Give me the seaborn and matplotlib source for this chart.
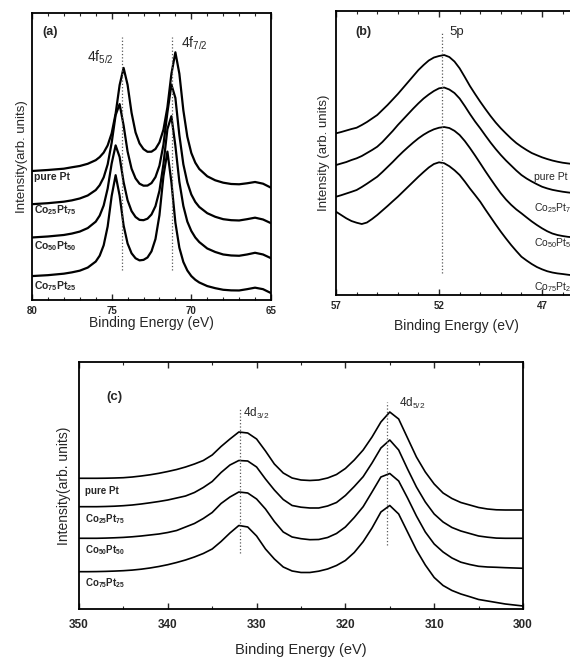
import matplotlib
matplotlib.use("Agg")
import pandas as pd
import matplotlib.pyplot as plt
from matplotlib.ticker import MultipleLocator, FixedLocator, NullLocator
import seaborn as sns

# sample names (same order in every panel, top curve first)
samples = ["pure Pt", "Co$_{25}$Pt$_{75}$", "Co$_{50}$Pt$_{50}$", "Co$_{75}$Pt$_{25}$"]

# Panel (a): Pt 4f region
be_a = [80, 79, 78, 77.5, 77, 76.5, 76, 75.75, 75.5, 75.25, 75, 74.75, 74.5, 74.25,
        74, 73.75, 73.5, 73.25, 73, 72.75, 72.5, 72.25, 72, 71.75, 71.5, 71.25, 71,
        70.75, 70.5, 70.25, 70, 69.75, 69.5, 69, 68.5, 68, 67.5, 67, 66.5, 66, 65.5, 65]
pt_a = [129.0, 130.0, 131.3, 132.7, 134.0, 136.2, 139.8, 142.9, 147.4, 154.6, 166.6,
        186.4, 214.9, 232.1, 215.2, 187.2, 167.6, 156.6, 150.9, 148.2, 148.3, 151.0,
        157.6, 170.3, 192.7, 226.0, 247.7, 226.3, 189.7, 163.3, 147.0, 137.3, 131.0,
        123.7, 119.7, 117.3, 116.0, 115.7, 116.7, 118.0, 116.3, 112.3]
co25_a = [95.8, 96.8, 98.3, 99.6, 101.5, 104.5, 109.9, 114.8, 122.6, 135.6, 157.1,
          184.9, 195.9, 174.6, 148.5, 131.3, 121.6, 116.3, 114.3, 114.4, 116.9, 122.9,
          134.3, 155.2, 187.5, 215.4, 202.1, 164.8, 135.7, 117.5, 105.5, 98.0, 93.0,
          86.8, 83.2, 80.8, 79.8, 79.5, 80.8, 82.3, 80.5, 76.8]
co50_a = [62.5, 63.5, 65.0, 66.4, 68.4, 71.9, 78.3, 84.4, 94.5, 111.4, 136.4, 154.6,
          143.0, 117.9, 99.7, 88.9, 83.0, 80.1, 79.8, 81.3, 85.5, 93.8, 109.2, 135.8,
          170.9, 183.8, 154.2, 118.2, 94.0, 78.4, 69.0, 62.5, 57.9, 51.5, 48.0, 45.5,
          44.5, 44.2, 45.5, 47.2, 45.5, 41.8]
co75_a = [23.9, 24.8, 26.3, 27.6, 29.3, 32.4, 38.4, 44.3, 54.7, 73.5, 103.9, 124.8,
          104.4, 74.6, 56.5, 46.7, 41.7, 39.6, 40.1, 42.5, 48.6, 60.9, 84.8, 123.8,
          148.4, 117.9, 77.4, 52.3, 38.0, 29.5, 23.9, 20.2, 17.5, 13.9, 11.8, 10.2,
          9.6, 9.5, 10.8, 12.3, 10.8, 6.9]
peaks_a = [74.38, 71.19]

# Panel (b): Pt 5p region
be_b = [57, 56.75, 56.5, 56.25, 56, 55.75, 55.5, 55.25, 55, 54.75, 54.5, 54.25, 54,
        53.75, 53.5, 53.25, 53, 52.75, 52.5, 52.25, 52, 51.75, 51.5, 51.25, 51, 50.75,
        50.5, 50.25, 50, 49.75, 49.5, 49.25, 49, 48.75, 48.5, 48.25, 48, 47.75, 47.5,
        47.25, 47, 46.75, 46.5, 46.25, 46, 45.75, 45.5]
pt_b = [161.7, 163, 164.5, 166, 167.3, 170, 173, 176.5, 180, 185, 190, 195.5, 201, 207,
        213, 219, 225, 230, 234.5, 237.5, 239, 240, 238, 233.5, 226.7, 218, 209, 201,
        193.3, 186, 179, 172.5, 166.7, 161.5, 156.5, 152, 148.3, 145, 142, 139.8, 137.7,
        136, 134.5, 133.3, 132.3, 131.6, 131]
co25_b = [130, 131.5, 133, 135, 136.7, 139, 142, 145, 148.3, 153, 158.5, 164, 170, 175.5,
          181, 186.5, 191.7, 196.5, 200.5, 204, 206.7, 207.5, 205.5, 202, 196.5, 189, 181,
          173.5, 166.7, 159.5, 152.5, 146, 140, 134.5, 129.5, 124.5, 120, 116.5, 113.5,
          110.8, 108.3, 106.6, 105.2, 104.2, 103.3, 102.6, 102]
co50_b = [98.3, 99.8, 101.5, 103.2, 105, 108, 111.3, 114.8, 118.3, 123, 128, 133, 138.3,
          143.3, 148, 152.5, 156.7, 160.3, 163.3, 165.7, 167.3, 168, 167, 164.2, 160, 154,
          147, 139.5, 131.7, 123.8, 116.2, 108.8, 101.7, 95.5, 90.2, 85.6, 81.7, 77.6,
          73.6, 70, 66.7, 63.8, 61.5, 60, 59, 58.2, 57.7]
co75_b = [83.3, 80, 76.7, 74, 72.3, 71, 72.5, 76, 80, 84.5, 89, 93.7, 98.3, 103.3, 108.3,
          113.3, 118.3, 123, 127.5, 131, 132.7, 131.8, 128.8, 124.8, 120, 113.5, 106.5,
          100, 93.3, 85.5, 78, 70.5, 63.3, 56.5, 50, 44, 38.3, 34.5, 31, 28, 25.7, 23.8,
          22.5, 21.6, 21, 20.3, 19.7]
peaks_b = [51.84]
ticks_b = [57, 52, 47]

# Panel (c): Pt 4d region
be_c = [350, 349, 348, 347, 346, 345, 344, 343, 342, 341, 340, 339, 338, 337, 336, 335,
        334, 333, 332, 331, 330, 329, 328, 327, 326, 325, 324, 323, 322, 321, 320, 319,
        318, 317, 316, 315, 314, 313, 312, 311, 310, 309, 308, 307, 306, 305, 304, 303,
        302, 301, 300]
pt_c = [130.7, 130.7, 130.7, 130.8, 131.0, 131.3, 132.0, 133.0, 134.2, 135.7,
        137.5, 139.5, 142, 145, 148.5, 154, 162.5, 170, 177, 176,
        170, 158, 145, 136, 131, 129, 128.5, 129, 131, 134.5,
        140.5, 149, 159, 172, 187, 197, 190, 171, 152, 137,
        125, 116, 110.5, 106.5, 104, 101.5, 100, 99.2, 99, 99, 99]
co25_c = [102.3, 102.3, 102.3, 102.5, 102.8, 103.3, 104, 105, 106.2, 107.5,
          109, 111, 113, 116.5, 121.5, 127.5, 136.5, 144, 148.5, 148,
          142, 130, 119, 109.5, 103.5, 101.8, 101, 101, 103, 106.5,
          113.5, 122.5, 132.3, 146, 161, 169, 159, 140, 122, 107,
          95, 87, 81.5, 78, 75.5, 73, 71.8, 70.9, 70.7, 70.7, 70.7]
co50_c = [70.7, 70.7, 70.7, 70.9, 71.2, 71.6, 72.2, 73, 74, 75,
          76.5, 78.5, 82, 85.5, 90.5, 96.5, 105.5, 112, 117, 116,
          110, 100, 87.5, 77, 72, 70.3, 69.3, 69.5, 71.5, 75.5,
          82, 91.5, 102.3, 117, 132, 135.5, 128, 111, 93, 77,
          65, 57, 51, 46.8, 44.5, 42.7, 42, 41.7, 41.3, 41, 40.7]
co75_c = [37.3, 37.3, 37.4, 37.6, 37.9, 38.3, 38.9, 39.8, 41, 42.5,
          44.3, 46.5, 49, 52, 55.5, 60, 67.5, 76, 83.5, 82,
          73, 60, 50, 42, 38, 36.5, 36.5, 37.8, 40, 43.5,
          48.5, 56.5, 67.3, 81, 97, 103.5, 95, 77, 59, 44,
          31.5, 23.5, 18.5, 15, 12.3, 9.5, 8, 6.5, 5, 4, 3]
peaks_c = [331.9, 315.3]


def long_form(be, curves):
    frames = []
    for name, vals in zip(samples, curves):
        frames.append(pd.DataFrame({"be": be, "intensity": vals, "sample": name}))
    return pd.concat(frames, ignore_index=True)


def style_axis(ax, xlim, ylim, major, minor, lw_spine=1.3):
    ax.set_xlim(*xlim)
    ax.set_ylim(*ylim)
    if isinstance(major, list):
        ax.xaxis.set_major_locator(FixedLocator(major))
    else:
        ax.xaxis.set_major_locator(MultipleLocator(major))
    ax.xaxis.set_minor_locator(MultipleLocator(minor))
    ax.yaxis.set_major_locator(NullLocator())
    ax.tick_params(axis="x", which="both", direction="in", top=True, bottom=True,
                   pad=4, labelsize=7)
    ax.tick_params(axis="x", which="major", length=4, width=1)
    ax.tick_params(axis="x", which="minor", length=2.5, width=0.8)
    for s in ax.spines.values():
        s.set_linewidth(lw_spine)
        s.set_color("black")
    for lab in ax.get_xticklabels():
        lab.set_fontweight("bold")


sns.set_theme(style="ticks")
plt.rcParams["font.family"] = ["Liberation Sans", "DejaVu Sans"]
plt.rcParams["mathtext.fontset"] = "custom"
plt.rcParams["mathtext.rm"] = "Liberation Sans"
plt.rcParams["mathtext.it"] = "Liberation Sans"
plt.rcParams["mathtext.default"] = "regular"

fig = plt.figure(figsize=(5.7, 6.6), dpi=100)
fig.patch.set_facecolor("white")
ax_a = fig.add_axes([0.0561, 0.5455, 0.4193, 0.4348])
ax_b = fig.add_axes([0.5895, 0.5530, 0.4211, 0.4303])
ax_c = fig.add_axes([0.1386, 0.0773, 0.7789, 0.3742])

# ---- (a) ----
df_a = long_form(be_a, [pt_a, co25_a, co50_a, co75_a])
sns.lineplot(data=df_a, x="be", y="intensity", units="sample", estimator=None,
             color="black", linewidth=1.6, ax=ax_a, legend=False)
ax_a.vlines(peaks_a, 30, 263, colors="0.35", linestyles=":", linewidth=0.9)
style_axis(ax_a, (80, 65), (0, 287), 5, 1)
ax_a.set_xlabel("Binding Energy (eV)", fontsize=10, labelpad=0)
ax_a.set_ylabel("Intensity(arb. units)", fontsize=9.5, labelpad=3)
ax_a.text(0.045, 0.935, "(a)", transform=ax_a.transAxes, fontsize=9, fontweight="bold",
          va="center")
ax_a.text(75.7, 243, "4f$_{5/2}$", fontsize=10, ha="center", va="center")
ax_a.text(69.8, 257, "4f$_{7/2}$", fontsize=10, ha="center", va="center")
for name, y in zip(samples, [122.5, 90, 54, 14]):
    ax_a.text(79.85, y, name, fontsize=7.5, fontweight="bold", va="center")

# ---- (b) ----
df_b = long_form(be_b, [pt_b, co25_b, co50_b, co75_b])
sns.lineplot(data=df_b, x="be", y="intensity", units="sample", estimator=None,
             color="black", linewidth=1.3, ax=ax_b, legend=False)
ax_b.vlines(peaks_b, 22, 263, colors="0.35", linestyles=":", linewidth=0.9)
style_axis(ax_b, (57, 45.35), (0, 284), ticks_b, 1)
ax_b.set_xlabel("Binding Energy (eV)", fontsize=10, labelpad=6)
ax_b.set_ylabel("Intensity (arb. units)", fontsize=9.5, labelpad=4)
ax_b.text(56.05, 263, "(b)", fontsize=9, fontweight="bold", va="center")
ax_b.text(51.5, 263, "5p", fontsize=9.5, va="center")
for name, y in zip(samples, [118, 87, 52, 8]):
    ax_b.text(47.38, y, name, fontsize=7.5, va="center")

# ---- (c) ----
df_c = long_form(be_c, [pt_c, co25_c, co50_c, co75_c])
sns.lineplot(data=df_c, x="be", y="intensity", units="sample", estimator=None,
             color="black", linewidth=1.2, ax=ax_c, legend=False)
ax_c.vlines(peaks_c[0], 56, 201, colors="0.35", linestyles=":", linewidth=0.9)
ax_c.vlines(peaks_c[1], 64, 207, colors="0.35", linestyles=":", linewidth=0.9)
style_axis(ax_c, (350, 300), (0, 247), 10, 5)
ax_c.tick_params(axis="x", labelsize=8.5, pad=7)
ax_c.set_xlabel("Binding Energy (eV)", fontsize=10.5, labelpad=9)
ax_c.set_ylabel("Intensity(arb. units)", fontsize=10, labelpad=6)
ax_c.text(346.9, 212, "(c)", fontsize=9.5, fontweight="bold", va="center")
ax_c.text(331.5, 196, "4d$_{3/2}$", fontsize=8.5, va="center")
ax_c.text(314.0, 206, "4d$_{5/2}$", fontsize=8.5, va="center")
for name, y in zip(samples, [118, 90, 59, 26]):
    ax_c.text(349.3, y, name, fontsize=7, fontweight="bold", va="center")

fig.savefig("out.png", dpi=100)
